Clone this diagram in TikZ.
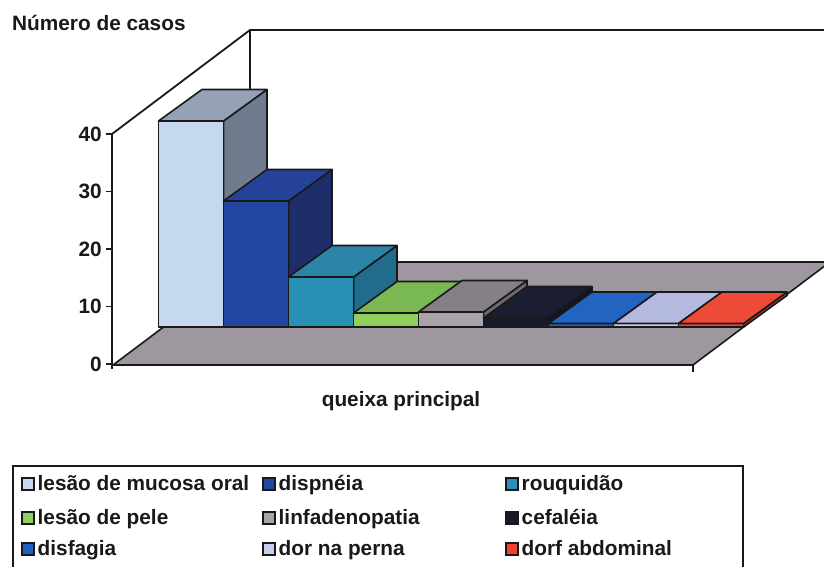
\documentclass[tikz,border=0pt]{standalone}
\usepackage{fontspec}
\setmainfont{Liberation Sans}
\definecolor{floorc}{RGB}{158,151,160}
\definecolor{cAf}{RGB}{198,216,239}\definecolor{cAt}{RGB}{149,162,181}\definecolor{cAs}{RGB}{112,124,142}
\definecolor{cBf}{RGB}{36,70,163}\definecolor{cBt}{RGB}{36,66,152}\definecolor{cBs}{RGB}{30,46,106}
\definecolor{cCf}{RGB}{40,144,180}\definecolor{cCt}{RGB}{44,132,166}\definecolor{cCs}{RGB}{32,108,138}
\definecolor{cDf}{RGB}{143,207,92}\definecolor{cDt}{RGB}{122,184,84}\definecolor{cDs}{RGB}{96,150,66}
\definecolor{cEf}{RGB}{170,164,170}\definecolor{cEt}{RGB}{133,128,134}\definecolor{cEs}{RGB}{110,105,112}
\definecolor{cFf}{RGB}{22,26,42}\definecolor{cFt}{RGB}{26,30,48}\definecolor{cFs}{RGB}{18,20,34}
\definecolor{cGf}{RGB}{32,96,190}\definecolor{cGt}{RGB}{34,100,194}\definecolor{cGs}{RGB}{26,76,150}
\definecolor{cHf}{RGB}{200,205,240}\definecolor{cHt}{RGB}{180,185,224}\definecolor{cHs}{RGB}{150,155,200}
\definecolor{cIf}{RGB}{238,66,50}\definecolor{cIt}{RGB}{238,74,56}\definecolor{cIs}{RGB}{190,48,40}
\newcommand\drawbar[3]{% #1 left x, #2 height, #3 colour prefix
  \filldraw[fill=#3s,outl] ({#1+65},{327-#2}) -- ++(43.5,-31.5) -- ++(0,#2) -- ({#1+65},327) -- cycle;
  \filldraw[fill=#3f,outl] (#1,327) rectangle ({#1+65},{327-#2});
  \filldraw[fill=#3t,outl] (#1,{327-#2}) -- ++(43.5,-31.5) -- ++(65,0) -- ({#1+65},{327-#2}) -- cycle;
}
\tikzset{
  outl/.style={draw=black!90,line width=1.6pt,line join=round},
  axisline/.style={draw=black!90,line width=1.8pt},
  lab/.style={font=\bfseries\fontsize{20.8}{24}\selectfont,text=black!90,inner sep=0pt},
  legmark/.style={draw=black!90,line width=1.2pt,minimum size=12pt,inner sep=0pt}
}
\begin{document}
\begin{tikzpicture}[x=1pt,y=-1pt]
\useasboundingbox (0,0) rectangle (824,567);
% walls
\draw[axisline] (112,134) -- (250,30) -- (830,30);
\draw[axisline] (250,30) -- (250,262);
% floor
\filldraw[fill=floorc,outl] (113,365) -- (250,262) -- (830,262) -- (693,365) -- cycle;
\draw[axisline] (693,365) -- (693,372);
% value axis
\draw[axisline] (112,134) -- (112,369);
\foreach \yy/\vv in {134/40,191.5/30,249/20,306.5/10,364/0}{
  \draw[axisline] (106,\yy) -- (112,\yy);
  \node[lab,anchor=east] (t\vv) at (102,\yy) {\vv};
}
% bars
\drawbar{158.5}{206}{cA}
\drawbar{223.5}{126}{cB}
\drawbar{288.5}{50}{cC}
\drawbar{353.5}{14}{cD}
\drawbar{418.5}{15}{cE}
\drawbar{483.5}{9}{cF}
\drawbar{548.5}{3.5}{cG}
\drawbar{613.5}{3.5}{cH}
\drawbar{678.5}{3.5}{cI}
% titles
\node[lab,anchor=base west] (ytitle) at (12,31) {Número de casos};
\node[lab,anchor=base] (xtitle) at (401,406) {queixa principal};
% legend
\draw[line width=1.6pt,black!90] (13,600) -- (13,466) -- (743,466) -- (743,600);
\foreach \mx/\my/\cc/\lt/\nn in {
  28/484/cAf/{lesão de mucosa oral}/a, 269/484/cBf/{dispnéia}/b, 512/484/cCf/{rouquidão}/c,
  28/518/cDf/{lesão de pele}/d, 269/518/cEf/{linfadenopatia}/e, 512/518/cFf/{cefaléia}/f,
  28/549/cGf/{disfagia}/g, 269/549/cHf/{dor na perna}/h, 512/549/cIf/{dorf abdominal}/i}{
  \node[legmark,fill=\cc] (m\nn) at (\mx,\my) {};
  \node[lab,anchor=base west] (l\nn) at ({\mx+9.5},{\my+6}) {\lt};
}
\end{tikzpicture}
\end{document}
